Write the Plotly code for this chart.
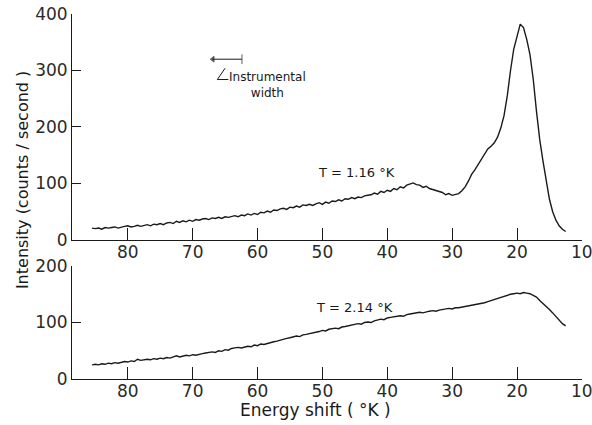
import plotly.graph_objects as go

# ---------------- data ----------------
energy_shift = [
    85.5, 85.0, 84.5, 84.0, 83.5, 83.0, 82.5, 82.0, 81.5, 81.0,
    80.5, 80.0, 79.5, 79.0, 78.5, 78.0, 77.5, 77.0, 76.5, 76.0,
    75.5, 75.0, 74.5, 74.0, 73.5, 73.0, 72.5, 72.0, 71.5, 71.0,
    70.5, 70.0, 69.5, 69.0, 68.5, 68.0, 67.5, 67.0, 66.5, 66.0,
    65.5, 65.0, 64.5, 64.0, 63.5, 63.0, 62.5, 62.0, 61.5, 61.0,
    60.5, 60.0, 59.5, 59.0, 58.5, 58.0, 57.5, 57.0, 56.5, 56.0,
    55.5, 55.0, 54.5, 54.0, 53.5, 53.0, 52.5, 52.0, 51.5, 51.0,
    50.5, 50.0, 49.5, 49.0, 48.5, 48.0, 47.5, 47.0, 46.5, 46.0,
    45.5, 45.0, 44.5, 44.0, 43.5, 43.0, 42.5, 42.0, 41.5, 41.0,
    40.5, 40.0, 39.5, 39.0, 38.5, 38.0, 37.5, 37.0, 36.5, 36.0,
    35.5, 35.0, 34.5, 34.0, 33.5, 33.0, 32.5, 32.0, 31.5, 31.0,
    30.5, 30.0, 29.5, 29.0, 28.5, 28.0, 27.5, 27.0, 26.5, 26.0,
    25.5, 25.0, 24.5, 24.0, 23.5, 23.0, 22.5, 22.0, 21.5, 21.0,
    20.5, 20.0, 19.5, 19.0, 18.5, 18.0, 17.5, 17.0, 16.5, 16.0,
    15.5, 15.0, 14.5, 14.0, 13.5, 13.0, 12.5,
]

intensity_T116 = [
    21, 20, 21, 19, 22, 21, 22, 23, 21, 23,
    24, 25, 23, 24, 26, 24, 26, 27, 25, 28,
    27, 29, 27, 30, 31, 29, 33, 31, 34, 32,
    35, 33, 36, 35, 37, 38, 36, 39, 38, 40,
    38, 41, 40, 42, 43, 41, 44, 43, 46, 44,
    47, 45, 49, 48, 51, 49, 53, 52, 55, 56,
    54, 58, 57, 60, 58, 62, 61, 63, 61, 64,
    66, 63, 67, 65, 69, 68, 71, 69, 73, 72,
    75, 73, 76, 75, 78, 79, 80, 83, 81, 86,
    84, 88, 86, 91, 89, 94, 92, 97, 99, 101,
    98, 97, 93, 95, 91, 89, 88, 86, 84, 80,
    82, 79, 81, 82, 87, 94, 104, 116, 124, 133,
    142, 150, 161, 166, 172, 182, 198, 220, 255, 300,
    338, 360, 382, 376, 355, 328, 285, 228, 178, 140,
    102, 72, 50, 35, 25, 19, 15,
]

intensity_T214 = [
    25, 26, 25, 27, 26, 28, 27, 29, 28, 30,
    31, 30, 32, 31, 35, 33, 34, 35, 34, 36,
    35, 37, 36, 38, 37, 39, 41, 39, 40, 42,
    41, 43, 42, 44, 45, 46, 47, 48, 47, 50,
    49, 52, 51, 54, 55, 56, 55, 57, 58, 57,
    60, 59, 62, 61, 63, 64, 66, 67, 69, 70,
    72, 73, 74, 76, 75, 78, 79, 80, 82, 83,
    84, 86, 85, 88, 89, 90, 89, 92, 93, 94,
    95, 96, 98, 97, 100, 101, 100, 103, 104, 106,
    105, 108, 109, 110, 111, 112, 111, 114, 115, 116,
    117, 118, 117, 119, 120, 121, 120, 122, 123, 123,
    125, 124, 126, 126, 127, 128, 129, 130, 131, 132,
    134, 135, 137, 139, 140, 143, 145, 147, 148, 150,
    151, 152, 151, 153, 152, 151, 148, 145, 139, 134,
    129, 123, 117, 110, 104, 98, 94,
]

assert len(energy_shift) == len(intensity_T116) == len(intensity_T214)

x_ticks = [80, 70, 60, 50, 40, 30, 20, 10]
x_tick_labels = ["80", "70", "60", "50", "40", "30", "20", "10"]
top_y_ticks = [0, 100, 200, 300, 400]
bottom_y_ticks = [0, 100, 200]

# instrumental-width marker (x in K, y in counts/s on the top panel)
instr_x = [66.9, 62.4]
instr_y = [320, 320]

# ---------------- style ----------------
FONT = "DejaVu Sans"
INK = "#1a1a1a"
TICK_FONT = dict(family=FONT, size=17, color="#2a2a2a")

fig = go.Figure()

fig.add_trace(go.Scatter(x=energy_shift, y=intensity_T116, mode="lines",
                         line=dict(color=INK, width=1.4), xaxis="x", yaxis="y",
                         showlegend=False, hoverinfo="skip"))
fig.add_trace(go.Scatter(x=energy_shift, y=intensity_T214, mode="lines",
                         line=dict(color=INK, width=1.4), xaxis="x2", yaxis="y2",
                         showlegend=False, hoverinfo="skip"))
# instrumental width bar
fig.add_trace(go.Scatter(x=instr_x, y=instr_y, mode="lines+markers",
                         line=dict(color=INK, width=1),
                         marker=dict(symbol=["triangle-left", "line-ns"], size=[5, 7],
                                     color=INK, line=dict(color=INK, width=1)),
                         xaxis="x", yaxis="y", showlegend=False, hoverinfo="skip"))

x_common = dict(range=[88.6, 9.98], tickvals=x_ticks, ticktext=x_tick_labels,
                ticks="inside", ticklen=12, tickwidth=1, tickcolor=INK,
                showline=True, linecolor=INK, linewidth=1, automargin=False,
                ticklabelstandoff=-3, ticklabeloverflow="allow",
                showgrid=False, zeroline=False, tickfont=TICK_FONT)
y_common = dict(ticks="inside", ticklen=9, tickwidth=1, tickcolor=INK,
                showline=True, linecolor=INK, linewidth=1, automargin=False,
                ticklabeloverflow="allow",
                showgrid=False, zeroline=False, tickfont=TICK_FONT)

fig.update_layout(
    width=592, height=425,
    margin=dict(l=72, r=10, t=14, b=46, autoexpand=False),
    paper_bgcolor="white", plot_bgcolor="white",
    hovermode=False,
    xaxis=dict(domain=[0, 1], anchor="y", **x_common),
    yaxis=dict(domain=[0.381, 1], anchor="x", range=[0, 400],
               tickvals=top_y_ticks, **y_common),
    xaxis2=dict(domain=[0, 1], anchor="y2", **x_common),
    yaxis2=dict(domain=[0, 0.3096], anchor="x2", range=[0, 200],
                tickvals=bottom_y_ticks, **y_common),
)

ann_font = dict(family=FONT, size=13, color=INK)
fig.add_annotation(x=44.8, y=119, xref="x", yref="y", text="T = 1.16 °K",
                   showarrow=False, font=ann_font)
fig.add_annotation(x=45.0, y=126, xref="x2", yref="y2", text="T = 2.14 °K",
                   showarrow=False, font=ann_font)
fig.add_annotation(x=58.4, y=274, xref="x", yref="y", text="Instrumental<br>width",
                   showarrow=False, font=dict(family=FONT, size=12, color=INK),
                   align="center")
# leader mark from label to the width bar
fig.add_shape(type="path", xref="x", yref="y",
              path="M 65.0,304 L 66.2,284 L 64.5,284",
              line=dict(color=INK, width=1))

# axis titles
fig.add_annotation(x=-0.098, y=0.545, xref="paper", yref="paper",
                   xanchor="center", yanchor="middle",
                   text="Intensity (counts / second )", textangle=-90,
                   showarrow=False, font=dict(family=FONT, size=16, color=INK))
fig.add_annotation(x=0.478, y=-0.085, xref="paper", yref="paper",
                   xanchor="center", yanchor="middle",
                   text="Energy shift ( °K )", showarrow=False,
                   font=dict(family=FONT, size=17, color=INK))

# remove the browser's default 8px body margin so the figure sits at the page origin
fig.write_html("out.html", config={"displayModeBar": False},
               post_script="document.body.style.margin='0px';")
